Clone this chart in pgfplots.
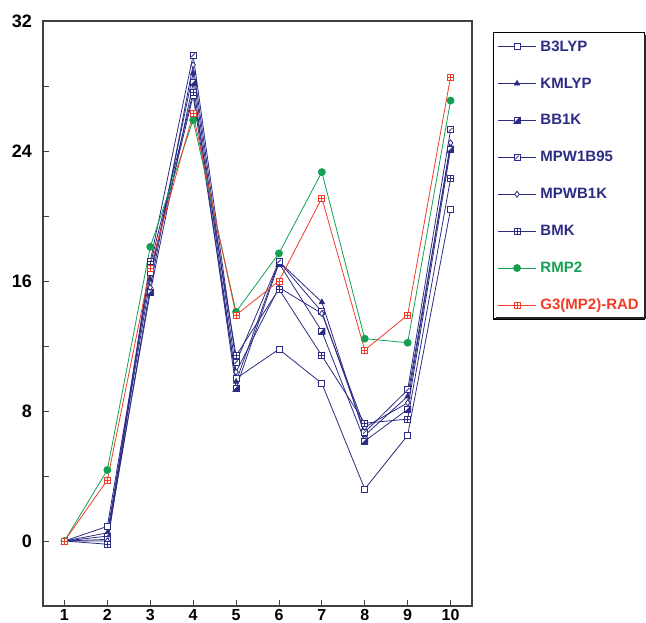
\documentclass[border=0pt]{standalone}
\usepackage{pgfplots}
\pgfplotsset{compat=1.18}
\usepackage{fontspec}
\setmainfont{Liberation Sans}
\usetikzlibrary{plotmarks}
\definecolor{navy}{RGB}{44,44,132}
\definecolor{mgreen}{RGB}{20,160,80}
\definecolor{mred}{RGB}{240,60,40}
\pgfdeclareplotmark{boxplus}{%
  \pgfpathrectangle{\pgfpoint{-\pgfplotmarksize}{-\pgfplotmarksize}}{\pgfpoint{2\pgfplotmarksize}{2\pgfplotmarksize}}%
  \pgfusepathqfillstroke
  \pgfpathmoveto{\pgfpoint{-\pgfplotmarksize}{0pt}}\pgfpathlineto{\pgfpoint{\pgfplotmarksize}{0pt}}%
  \pgfpathmoveto{\pgfpoint{0pt}{-\pgfplotmarksize}}\pgfpathlineto{\pgfpoint{0pt}{\pgfplotmarksize}}%
  \pgfusepathqstroke}
\pgfdeclareplotmark{boxslash}{%
  \pgfpathrectangle{\pgfpoint{-\pgfplotmarksize}{-\pgfplotmarksize}}{\pgfpoint{2\pgfplotmarksize}{2\pgfplotmarksize}}%
  \pgfusepathqfillstroke
  \pgfpathmoveto{\pgfpoint{-0.6\pgfplotmarksize}{-0.6\pgfplotmarksize}}\pgfpathlineto{\pgfpoint{0.6\pgfplotmarksize}{0.6\pgfplotmarksize}}%
  \pgfusepathqstroke}
\pgfdeclareplotmark{boxhalf}{%
  \pgfpathrectangle{\pgfpoint{-\pgfplotmarksize}{-\pgfplotmarksize}}{\pgfpoint{2\pgfplotmarksize}{2\pgfplotmarksize}}%
  \pgfsetfillcolor{white}\pgfusepathqfillstroke
  \pgfpathmoveto{\pgfpoint{-\pgfplotmarksize}{-\pgfplotmarksize}}\pgfpathlineto{\pgfpoint{\pgfplotmarksize}{-\pgfplotmarksize}}\pgfpathlineto{\pgfpoint{\pgfplotmarksize}{\pgfplotmarksize}}\pgfpathclose
  \pgfsetfillcolor{navy}\pgfusepathqfillstroke}
\begin{document}
\begin{tikzpicture}
\begin{axis}[
  scale only axis, width=429pt, height=585pt,
  xmin=0.5, xmax=10.5, ymin=-4, ymax=32,
  xtick={1,...,10}, ytick={0,8,16,24,32}, minor ytick={4,12,20,28},
  tick align=inside, tick pos=left,
  major tick length=6pt, minor tick length=6pt,
  axis line style={draw=black!75, line width=1.2pt},
  every tick/.style={black!75, line width=0.8pt},
  xticklabel style={font=\fontsize{16}{18}\selectfont\bfseries, inner sep=1pt, yshift=-2pt},
  yticklabel style={font=\fontsize{18}{20}\selectfont\bfseries, inner sep=1pt, xshift=-10pt},
  /pgf/number format/assume math mode=true,
  legend style={at={(1,1)}, anchor=north west, xshift=21pt, yshift=-11pt,
    draw=black, line width=1.3pt, fill=white,
    font=\fontsize{15}{17}\selectfont\bfseries, row sep=19.9pt, column sep=2pt,
    nodes={inner sep=2pt, text height=11pt, text depth=2pt},
    inner xsep=4pt, inner ysep=5.5pt, cells={anchor=west}},
  legend image code/.code={\draw[mark repeat=2,mark phase=2,#1] plot coordinates {(0pt,0pt)(19pt,0pt)(38pt,0pt)};},
  every axis plot/.append style={line width=0.8pt, mark size=3pt},
]
\addplot[navy, mark=square*, mark options={fill=white}] coordinates {(1,0)(2,0.9)(3,16.5)(4,27.4)(5,10.0)(6,11.8)(7,9.7)(8,3.2)(9,6.5)(10,20.4)};
\addplot[navy, mark=triangle*, mark options={fill=navy}] coordinates {(1,0)(2,0.5)(3,16.1)(4,28.8)(5,9.8)(6,17.2)(7,14.7)(8,6.5)(9,8.9)(10,24.3)};
\addplot[navy, mark=boxhalf] coordinates {(1,0)(2,0.3)(3,15.3)(4,28.2)(5,9.4)(6,17.1)(7,12.9)(8,6.15)(9,8.1)(10,24.1)};
\addplot[navy, mark=boxslash, mark options={fill=white}] coordinates {(1,0)(2,0.1)(3,17.2)(4,29.9)(5,11.0)(6,17.2)(7,14.1)(8,6.7)(9,9.3)(10,25.3)};
\addplot[navy, mark=diamond*, mark options={fill=white}] coordinates {(1,0)(2,0.0)(3,15.6)(4,29.3)(5,10.4)(6,15.6)(7,14.0)(8,7.0)(9,8.5)(10,24.5)};
\addplot[navy, mark=boxplus, mark options={fill=white}] coordinates {(1,0)(2,-0.2)(3,17.0)(4,27.6)(5,11.4)(6,15.5)(7,11.4)(8,7.25)(9,7.5)(10,22.3)};
\addplot[mgreen, mark=*, mark size=3.5pt, mark options={fill=mgreen}] coordinates {(1,0)(2,4.37)(3,18.1)(4,25.9)(5,14.1)(6,17.7)(7,22.7)(8,12.45)(9,12.2)(10,27.1)};
\addplot[mred, mark=boxplus, mark options={fill=white}] coordinates {(1,0)(2,3.75)(3,16.8)(4,26.3)(5,13.9)(6,16.0)(7,21.1)(8,11.75)(9,13.9)(10,28.55)};
\legend{\textcolor{navy}{B3LYP},\textcolor{navy}{KMLYP},\textcolor{navy}{BB1K},\textcolor{navy}{MPW1B95},\textcolor{navy}{MPWB1K},\textcolor{navy}{BMK},\textcolor{mgreen}{RMP2},\textcolor{mred}{G3(MP2)-RAD}}
\end{axis}
% drop shadow of the legend box
\fill[black!85] ([xshift=171.6pt,yshift=-14pt]current axis.north east) rectangle ([xshift=174pt,yshift=-298.5pt]current axis.north east);
\fill[black!85] ([xshift=24pt,yshift=-296pt]current axis.north east) rectangle ([xshift=174pt,yshift=-298.5pt]current axis.north east);
\path (current axis.north west) ++(-43pt,21pt);
\path (current axis.south east) ++(174pt,-17pt);
\end{tikzpicture}
\end{document}
